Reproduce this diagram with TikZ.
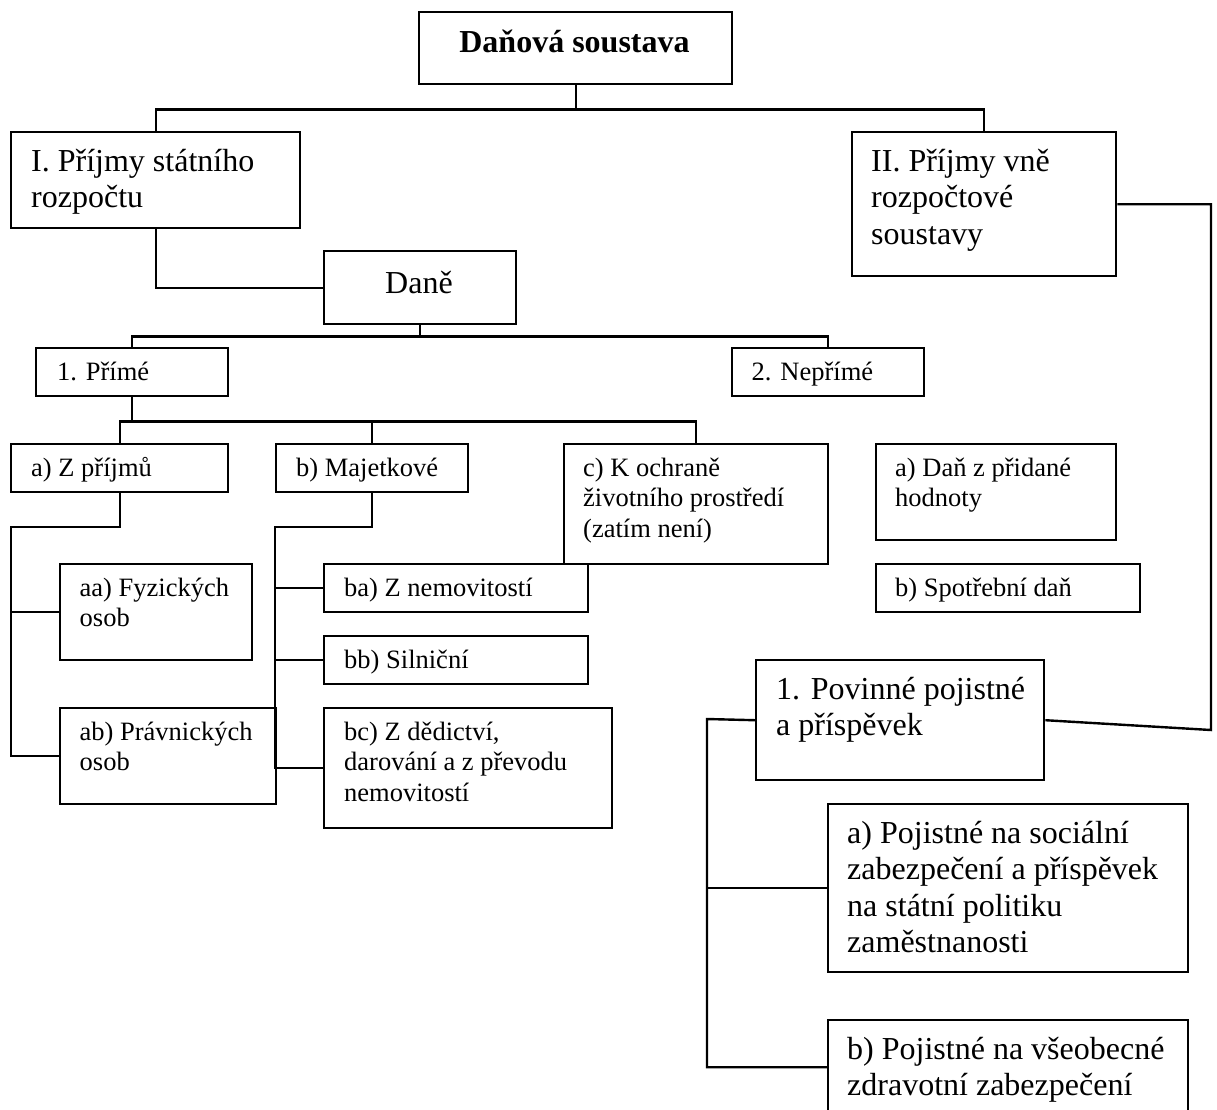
\documentclass[tikz,border=0pt]{standalone}
\usepackage{fontspec}
\setmainfont{Liberation Serif}
\newcommand\mystrut{\rule{0pt}{1em}}
\begin{document}
\begin{tikzpicture}[x=1pt,y=-1pt,
  bx/.style={draw, line width=2.4pt, inner sep=0pt, anchor=north west},
  ln/.style={line width=2.4pt},
  tl/.style={anchor=north west, inner sep=0pt, align=left, font=\fontsize{32}{36.5}\selectfont},
  ts/.style={anchor=north west, inner sep=0pt, align=left, font=\fontsize{26.5}{30.5}\selectfont}]
\useasboundingbox (0,0) rectangle (1217,1109);
\clip (0,0) rectangle (1217,1109);

% boxes
\node[bx, minimum width=313pt, minimum height=72pt] (top) at (418,11) {};
\node[bx, minimum width=289pt, minimum height=96pt] (I) at (10,131) {};
\node[bx, minimum width=264pt, minimum height=144pt] (II) at (851,131) {};
\node[bx, minimum width=192pt, minimum height=73pt] (dane) at (323,250) {};
\node[bx, minimum width=192pt, minimum height=48pt] (prime) at (35,347) {};
\node[bx, minimum width=192pt, minimum height=48pt] (neprime) at (731,347) {};
\node[bx, minimum width=217pt, minimum height=48pt] (za) at (10,443) {};
\node[bx, minimum width=192pt, minimum height=48pt] (maj) at (275,443) {};
\node[bx, minimum width=264pt, minimum height=120pt] (och) at (563,443) {};
\node[bx, minimum width=240pt, minimum height=96pt] (dph) at (875,443) {};
\node[bx, minimum width=264pt, minimum height=48pt] (spd) at (875,563) {};
\node[bx, minimum width=192.5pt, minimum height=96pt] (fyz) at (58.5,563) {};
\node[bx, minimum width=216.5pt, minimum height=96pt] (prav) at (58.5,707) {};
\node[bx, minimum width=264pt, minimum height=48pt] (nem) at (323,563) {};
\node[bx, minimum width=264pt, minimum height=48pt] (siln) at (323,635) {};
\node[bx, minimum width=288pt, minimum height=120pt] (ded) at (323,707) {};
\node[bx, minimum width=288pt, minimum height=120pt] (pov) at (755,659) {};
\node[bx, minimum width=360pt, minimum height=168pt] (psoc) at (827,803) {};
\node[bx, minimum width=360pt, minimum height=94pt] (pzdr) at (827,1019) {};

% texts
\node[anchor=base, inner sep=0pt, font=\fontsize{32}{36.8}\selectfont\bfseries] (ttop) at (574.5,52) {Daňová soustava};
\node[anchor=base, inner sep=0pt, font=\fontsize{32}{36.8}\selectfont] (tdane) at (419,293) {Daně};
\node[tl] (tI) at ([xshift=21pt,yshift=-8pt]I.north west) {\mystrut I. Příjmy státního\\rozpočtu};
\node[tl] (tII) at ([xshift=20pt,yshift=-8pt]II.north west) {\mystrut II. Příjmy vně\\rozpočtové\\soustavy};
\node[ts] (tprime) at ([xshift=22pt,yshift=-7pt]prime.north west) {\mystrut 1. Přímé};
\node[ts] (tneprime) at ([xshift=20.5pt,yshift=-7pt]neprime.north west) {\mystrut 2. Nepřímé};
\node[ts] (tza) at ([xshift=21pt,yshift=-6.5pt]za.north west) {\mystrut a) Z příjmů};
\node[ts] (tmaj) at ([xshift=21pt,yshift=-6.5pt]maj.north west) {\mystrut b) Majetkové};
\node[ts] (toch) at ([xshift=20pt,yshift=-6.5pt]och.north west) {\mystrut c) K ochraně\\životního prostředí\\(zatím není)};
\node[ts] (tdph) at ([xshift=20pt,yshift=-6.5pt]dph.north west) {\mystrut a) Daň z přidané\\hodnoty};
\node[ts] (tspd) at ([xshift=20pt,yshift=-6.5pt]spd.north west) {\mystrut b) Spotřební daň};
\node[ts] (tfyz) at ([xshift=21pt,yshift=-6.5pt]fyz.north west) {\mystrut aa) Fyzických\\osob};
\node[ts] (tprav) at ([xshift=21pt,yshift=-6.5pt]prav.north west) {\mystrut ab) Právnických\\osob};
\node[ts] (tnem) at ([xshift=21pt,yshift=-6.5pt]nem.north west) {\mystrut ba) Z nemovitostí};
\node[ts] (tsiln) at ([xshift=21pt,yshift=-6.5pt]siln.north west) {\mystrut bb) Silniční};
\node[ts] (tded) at ([xshift=21pt,yshift=-6.5pt]ded.north west) {\mystrut bc) Z dědictví,\\darování a z převodu\\nemovitostí};
\node[tl] (tpov) at ([xshift=21pt,yshift=-8pt]pov.north west) {\mystrut 1. Povinné pojistné\\a příspěvek};
\node[tl] (tpsoc) at ([xshift=20pt,yshift=-8pt]psoc.north west) {\mystrut a) Pojistné na sociální\\zabezpečení a příspěvek\\na státní politiku\\zaměstnanosti};
\node[tl] (tpzdr) at ([xshift=20pt,yshift=-8pt]pzdr.north west) {\mystrut b) Pojistné na všeobecné\\zdravotní zabezpečení};

% connectors
\draw[ln] (top.south) -- ++(0,24) coordinate (j0);
\draw[ln] (j0) -| (I.north);
\draw[ln] (j0) -| (II.north);
\draw[ln] (I.south) |- (dane.west);
\draw[ln] (dane.south) -- ++(0,11) coordinate (j1);
\draw[ln] (j1) -| (prime.north);
\draw[ln] (j1) -| (neprime.north);
\draw[ln] (prime.south) -- ++(0,24) coordinate (j2);
\draw[ln] (j2) -| (za.north);
\draw[ln] (j2) -| (maj.north);
\draw[ln] (j2) -| (och.north);
\coordinate (sa) at (11,527);
\draw[ln] (za.south) |- (sa) |- (prav.west);
\draw[ln] (sa |- fyz.west) -- (fyz.west);
\coordinate (sb) at (275,527);
\draw[ln] (maj.south) |- (sb) |- (ded.west);
\draw[ln] (sb |- nem.west) -- (nem.west);
\draw[ln] (sb |- siln.west) -- (siln.west);
\coordinate (kII) at (1211,730);
\draw[ln] (II.east) -| (kII) -- (pov.east);
\coordinate (sp) at (707,719);
\draw[ln] (pov.west) -- (sp) |- (pzdr.west);
\draw[ln] (sp |- psoc.west) -- (psoc.west);
\end{tikzpicture}
\end{document}
